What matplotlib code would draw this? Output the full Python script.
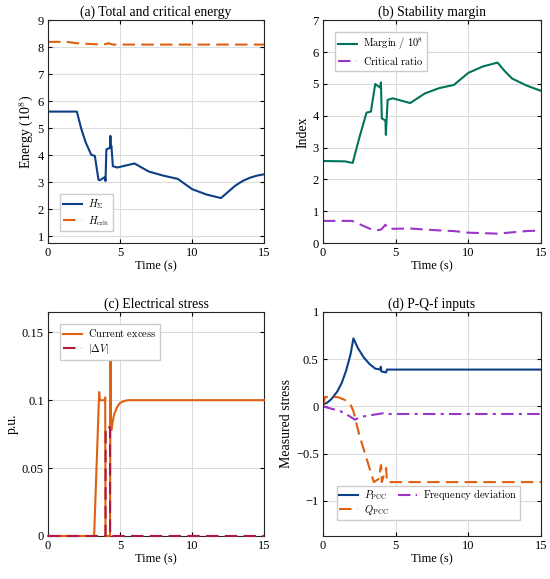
import matplotlib
matplotlib.use('Agg')
import matplotlib.pyplot as plt
import numpy as np

plt.rcParams['font.family'] = ['Liberation Serif', 'DejaVu Serif']
plt.rcParams['mathtext.fontset'] = 'cm'
plt.rcParams['font.size'] = 9

#~~~~~~~~~~~~~~~~~~
# DATA
#~~~~~~~~~~~~~~~~~~

# (a) total and critical energy (x 1e8)
t_h = [0, 2.0, 2.3, 2.6, 3.0, 3.25, 3.5, 3.6, 3.95, 3.99, 4.05, 4.3, 4.33, 4.36, 4.4, 4.5, 4.8,
       6.0, 7.0, 8.0, 9.0, 10.0, 11.0, 12.0, 12.5, 13.0, 13.5, 14.0, 14.5, 15.0]
h_sum = [5.62, 5.62, 5.0, 4.5, 4.02, 3.98, 3.1, 3.08, 3.2, 3.05, 4.22, 4.28, 4.72, 4.3, 4.35, 3.6, 3.55,
         3.7, 3.4, 3.25, 3.13, 2.75, 2.55, 2.42, 2.65, 2.88, 3.05, 3.17, 3.25, 3.3]
t_hc = [0, 1.3, 2.0, 3.0, 3.8, 4.0, 4.2, 4.5, 6.0, 15.0]
h_crit = [8.2, 8.2, 8.15, 8.12, 8.1, 8.12, 8.15, 8.1, 8.1, 8.1]

# (b) stability margin and critical ratio
t_m = [0, 1.5, 2.05, 2.5, 3.0, 3.3, 3.6, 3.95, 3.99, 4.05, 4.3, 4.33, 4.36, 4.45, 4.8,
       6.0, 7.0, 8.0, 9.0, 10.0, 11.0, 12.0, 12.5, 13.0, 14.0, 15.0]
margin = [2.58, 2.57, 2.52, 3.3, 4.1, 4.13, 5.0, 4.88, 5.05, 3.92, 3.85, 3.4, 3.7, 4.5, 4.55,
          4.4, 4.7, 4.87, 4.97, 5.35, 5.55, 5.67, 5.4, 5.17, 4.95, 4.78]
t_r = [0, 2.0, 3.0, 3.5, 3.95, 4.05, 4.3, 4.5, 6.0, 8.0, 9.0, 10.0, 12.0, 14.0, 15.0]
crit_ratio = [0.7, 0.7, 0.5, 0.4, 0.42, 0.45, 0.58, 0.45, 0.46, 0.4, 0.38, 0.33, 0.3, 0.38, 0.4]

# (c) electrical stress
t_i = [0, 3.2, 3.55, 3.6, 3.95, 3.97, 3.99, 4.3, 4.34, 4.36, 4.4, 4.5, 4.6, 4.8, 5.0, 5.3, 5.6, 6.0, 15.0]
i_exc = [0, 0, 0.106, 0.1, 0.1, 0.102, 0, 0, 0.133, 0.08, 0.078, 0.085, 0.09, 0.095, 0.098, 0.0995, 0.1, 0.1, 0.1]
t_v = [0, 3.99, 4.0, 4.3, 4.31, 15.0]
dv = [0, 0, 0.08, 0.08, 0, 0]

# (d) P-Q-f inputs
t_p = [0, 0.3, 0.6, 1.0, 1.3, 1.6, 1.9, 2.1, 2.4, 2.8, 3.2, 3.6, 3.95, 3.98, 4.02, 4.35, 4.4, 15.0]
p_pcc = [0.02, 0.04, 0.08, 0.16, 0.25, 0.38, 0.55, 0.72, 0.62, 0.52, 0.45, 0.4, 0.39, 0.42, 0.37, 0.36, 0.39, 0.39]
t_q = [0, 0.15, 0.5, 1.0, 1.5, 1.9, 2.1, 2.5, 3.0, 3.5, 3.9, 3.95, 4.0, 4.05, 4.35, 4.4, 15.0]
q_pcc = [0.0, 0.1, 0.1, 0.1, 0.07, 0.02, -0.05, -0.3, -0.55, -0.8, -0.76, -0.65, -0.62, -0.8, -0.65, -0.8, -0.8]
t_f = [0, 0.5, 1.2, 1.8, 2.2, 2.6, 3.0, 3.8, 4.2, 4.4, 15.0]
f_dev = [0, -0.02, -0.05, -0.1, -0.14, -0.11, -0.1, -0.08, -0.07, -0.08, -0.08]

#~~~~~~~~~~
# PLOTTING
#~~~~~~~~~~

navy = '#0b3f86'
orange = '#e0600f'
green = '#00735a'
purple = '#9a36c8'
crimson = '#b01840'

def rm(s):
    # legend text in computer modern, like the original
    return r'$\mathrm{' + s.replace(' ', r'\ ') + '}$'

fig = plt.figure(figsize=(5.5, 5.79), dpi=100)
ax_a = fig.add_axes([0.0873, 0.580, 0.393, 0.385])
ax_b = fig.add_axes([0.587, 0.580, 0.397, 0.385])
ax_c = fig.add_axes([0.0873, 0.0743, 0.393, 0.387])
ax_d = fig.add_axes([0.587, 0.0743, 0.397, 0.387])

leg_kw = dict(fancybox=False, framealpha=1, edgecolor='#cccccc', handlelength=1.8,
              fontsize=7.5, borderpad=0.35, labelspacing=0.25, handletextpad=0.6)
title_fs = 9.8

ax_a.plot(t_h, h_sum, color=navy, lw=1.5, label=r'$H_\Sigma$')
ax_a.plot(t_hc, h_crit, color=orange, lw=1.5, ls=(0, (6, 3)), label=r'$H_{\rm crit}$')
ax_a.set_ylim(0.75, 9)
ax_a.set_yticks(range(1, 10))
ax_a.set_title('(a) Total and critical energy', pad=3, fontsize=title_fs)
ax_a.set_ylabel(r'Energy (10$^8$)', labelpad=2, fontsize=10)
ax_a.legend(loc='lower left', bbox_to_anchor=(0.03, 0.03), **leg_kw)

ax_b.plot(t_m, margin, color=green, lw=1.5, label=r'$\mathrm{Margin\ /\ 10^8}$')
ax_b.plot(t_r, crit_ratio, color=purple, lw=1.5, ls=(0, (6, 3)), label=rm('Critical ratio'))
ax_b.set_ylim(0, 7)
ax_b.set_yticks(range(0, 8))
ax_b.set_title('(b) Stability margin', pad=3, fontsize=title_fs)
ax_b.set_ylabel('Index', labelpad=2, fontsize=10)
ax_b.legend(loc='upper left', bbox_to_anchor=(0.03, 0.97), **leg_kw)

ax_c.plot(t_i, i_exc, color=orange, lw=1.5, label=rm('Current excess'), clip_on=False, zorder=3)
ax_c.plot(t_v, dv, color=crimson, lw=1.5, ls=(0, (6, 3)), label=r'$|\Delta V|$', clip_on=False, zorder=4)
ax_c.set_ylim(0, 0.165)
ax_c.set_yticks([0, 0.05, 0.1, 0.15])
ax_c.set_yticklabels(['0', '0.05', '0.1', '0.15'])
ax_c.set_title('(c) Electrical stress', pad=3, fontsize=title_fs)
ax_c.set_ylabel('p.u.', labelpad=2, fontsize=10)
ax_c.legend(loc='upper left', bbox_to_anchor=(0.03, 0.97), **leg_kw)

ax_d.plot(t_p, p_pcc, color=navy, lw=1.5, label=r'$P_{\rm PCC}$')
ax_d.plot(t_q, q_pcc, color=orange, lw=1.5, ls=(0, (6, 3)), label=r'$Q_{\rm PCC}$')
ax_d.plot(t_f, f_dev, color=purple, lw=1.5, ls=(0, (6, 2.5, 1.5, 2.5)), label=rm('Frequency deviation'))
ax_d.set_ylim(-1.37, 1)
ax_d.set_yticks([-1, -0.5, 0, 0.5, 1])
ax_d.set_yticklabels(['\u22121', '\u22120.5', '0', '0.5', '1'])
ax_d.set_title('(d) P-Q-f inputs', pad=3, fontsize=title_fs)
ax_d.set_ylabel('Measured stress', labelpad=2, fontsize=10)
d_kw = dict(leg_kw, borderpad=0.25, labelspacing=0.1)
ax_d.legend(loc='lower left', bbox_to_anchor=(0.04, 0.05), ncol=2, columnspacing=0.8, **d_kw)

for ax in [ax_a, ax_b, ax_c, ax_d]:
    ax.set_xlim(0, 15)
    ax.set_xticks([0, 5, 10, 15])
    ax.set_xlabel('Time (s)', labelpad=1, fontsize=9)
    ax.grid(True, color='#dcdcdc', lw=0.8)
    ax.set_axisbelow(True)
    ax.tick_params(direction='in', top=True, right=True, length=3, width=0.8, pad=3, labelsize=9)
    for sp in ax.spines.values():
        sp.set_linewidth(0.8)
        sp.set_color('#262626')
        sp.set_zorder(2)

plt.savefig('out.png', dpi=100)
